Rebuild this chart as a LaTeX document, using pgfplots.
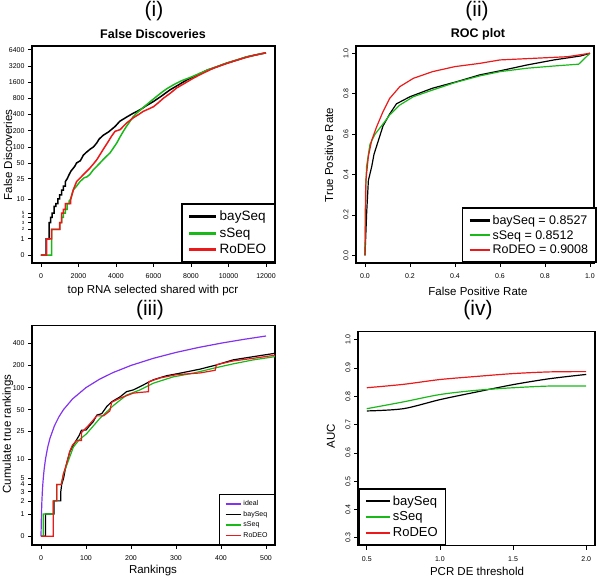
\documentclass[border=0pt]{standalone}
\usepackage{fontspec}
\setmainfont{Liberation Sans}
\usepackage{pgfplots}
\pgfplotsset{compat=1.18}

\definecolor{rgreen}{RGB}{25,185,25}
\definecolor{rred}{RGB}{235,25,25}
\definecolor{rpurple}{RGB}{130,50,240}

\pgfplotsset{
  rpanel/.style={
    scale only axis, anchor=south west,
    axis line style={line width=1.3pt},
    tick align=outside, xtick pos=bottom, ytick pos=left,
    major tick length=4pt,
    tick style={black, line width=0.6pt},
    ticklabel style={font=\fontsize{7}{7.5}\selectfont},
    xticklabel style={yshift=-3pt},
    scaled ticks=false,
    /pgf/number format/assume math mode=true,
    legend cell align=left,
  },
  logtwo/.style={
    y coord trafo/.code={\pgfmathparse{ln(##1+1)/ln(2)}},
    y coord inv trafo/.code={\pgfmathparse{2^(##1)-1}},
  },
}

\begin{document}
\begin{tikzpicture}
\useasboundingbox (0pt,0pt) rectangle (600pt,578pt);

% (i) false discoveries
\begin{axis}[rpanel, logtwo, at={(32pt,315pt)}, width=243pt, height=217pt,
  xmin=-480, xmax=12480, ymin=-0.288, ymax=7484,
  xtick={0,2000,4000,6000,8000,10000,12000},
  xticklabels={0,2000,4000,6000,8000,10000,12000},
  ytick={0,1,2,3,4,5,10,25,50,100,200,400,800,1600,3200,6400},
  yticklabels={0,1,{\fontsize{4.5}{4.5}\selectfont 2},{\fontsize{4.5}{4.5}\selectfont 3},{\fontsize{4.5}{4.5}\selectfont 4},{\fontsize{4.5}{4.5}\selectfont 5},10,25,50,100,200,400,800,1600,3200,6400},
  legend style={at={(rel axis cs:1,0)}, anchor=south east, draw=black,
    line width=1.5pt, font=\fontsize{13.5}{14}\selectfont,
    inner xsep=6pt, inner ysep=5pt, row sep=1.5pt},
  legend image code/.code={\draw[#1, line width=2.6pt] (0pt,0pt) -- (27pt,0pt);},
]
\addplot[black, line width=1.5pt] coordinates {
 (0,0)(280,0)(280,1)(430,1)(430,3)(520,3)(520,4)(600,4)(600,5)(700,5)(700,7)(800,7)(800,8)(900,8)(900,10)(1000,10)(1000,12)(1100,12)(1100,15)(1200,15)(1200,18)(1300,18)(1300,22)(1400,25)(1500,30)(1600,35)(1800,43)(1900,50)(2100,55)(2260,70)(2400,78)(2610,90)(2800,100)(2970,118)(3100,140)(3320,165)(3600,190)(3950,240)(4200,300)(4570,360)(4900,420)(5280,490)(5600,580)(6000,700)(6400,870)(6880,1150)(7300,1400)(7770,1750)(8300,2150)(8840,2650)(9400,3100)(9900,3600)(10500,4150)(10970,4700)(11500,5150)(12000,5600)
};
\addlegendentry{baySeq}
\addplot[rgreen, line width=1.5pt] coordinates {
 (0,0)(570,0)(570,2)(1000,2)(1000,3)(1100,3)(1100,4)(1200,4)(1200,5)(1300,5)(1300,6)(1400,6)(1400,8)(1500,8)(1500,9)(1600,10)(1640,12)(1720,15)(1900,18)(2080,22)(2300,26)(2440,27)(2600,30)(2790,37)(3000,44)(3150,50)(3400,62)(3680,77)(3900,100)(4040,118)(4200,150)(4390,195)(4570,245)(4750,300)(4900,360)(5100,425)(5400,520)(5640,615)(5900,730)(6170,870)(6450,1040)(6700,1200)(7100,1450)(7500,1700)(8000,1980)(8840,2650)(9900,3600)(10970,4700)(12000,5600)
};
\addlegendentry{sSeq}
\addplot[rred, line width=1.5pt] coordinates {
 (0,0)(300,0)(300,1)(570,1)(570,2)(1010,2)(1010,3)(1100,3)(1100,5)(1190,5)(1190,6)(1300,6)(1300,8)(1580,8)(1580,10)(1650,12)(1720,15)(1800,18)(1900,22)(2100,26)(2260,30)(2450,35)(2610,40)(2800,48)(2970,57)(3150,72)(3320,90)(3550,120)(3770,160)(3950,195)(4220,210)(4570,280)(4930,350)(5200,400)(5460,460)(5750,510)(6000,560)(6250,660)(6520,800)(6900,1000)(7240,1250)(7700,1550)(8130,1900)(8650,2350)(9200,2900)(9700,3350)(10260,3900)(10800,4450)(11330,5000)(12000,5600)
};
\addlegendentry{RoDEO}
\end{axis}

% (ii) ROC plot
\begin{axis}[rpanel, at={(356pt,315pt)}, width=238pt, height=217pt,
  xmin=-0.04, xmax=1.018, ymin=-0.038, ymax=1.036,
  xtick={0,0.2,0.4,0.6,0.8,1}, xticklabels={0.0,0.2,0.4,0.6,0.8,1.0},
  ytick={0,0.2,0.4,0.6,0.8,1}, yticklabels={0.0,0.2,0.4,0.6,0.8,1.0},
  yticklabel style={rotate=90, anchor=south},
  legend style={at={(rel axis cs:1.012,0)}, anchor=south east, draw=black,
    line width=1.5pt, font=\fontsize{12.5}{13}\selectfont,
    inner xsep=6pt, inner ysep=5pt, row sep=0.5pt},
  legend image code/.code={\draw[#1, line width=2.1pt] (0pt,0pt) -- (20pt,0pt);},
]
\addplot[black, line width=1.2pt] coordinates {
 (0,0)(0.0074,0.21)(0.015,0.37)(0.03,0.44)(0.04,0.5)(0.06,0.57)(0.08,0.64)(0.11,0.70)(0.14,0.75)(0.2,0.785)(0.3,0.827)(0.41,0.86)(0.51,0.893)(0.6,0.913)(0.72,0.942)(0.84,0.967)(0.96,0.987)(1,1)
};
\addlegendentry{baySeq = 0.8527}
\addplot[rgreen, line width=1.2pt] coordinates {
 (0,0)(0.002,0.3)(0.007,0.44)(0.022,0.55)(0.045,0.60)(0.08,0.65)(0.11,0.695)(0.155,0.744)(0.215,0.785)(0.3,0.818)(0.4,0.855)(0.51,0.888)(0.6,0.909)(0.72,0.926)(0.84,0.937)(0.95,0.946)(1,1)
};
\addlegendentry{sSeq = 0.8512}
\addplot[rred, line width=1.2pt] coordinates {
 (0,0)(0.004,0.37)(0.015,0.49)(0.03,0.57)(0.052,0.637)(0.08,0.711)(0.11,0.777)(0.155,0.835)(0.215,0.876)(0.3,0.909)(0.4,0.934)(0.51,0.95)(0.6,0.967)(0.75,0.975)(0.9,0.983)(1,1)
};
\addlegendentry{RoDEO = 0.9008}
\end{axis}

% (iii) cumulate true rankings
\begin{axis}[rpanel, logtwo, at={(32pt,33pt)}, width=243pt, height=219.3pt,
  xmin=-20, xmax=520, ymin=-0.237, ymax=689,
  xtick={0,100,200,300,400,500}, xticklabels={0,100,200,300,400,500},
  ytick={0,1,2,3,4,5,10,25,50,100,200,400},
  yticklabels={0,1,2,3,4,5,10,25,50,100,200,400},
  legend style={at={(rel axis cs:1,0)}, anchor=south east, draw=black,
    line width=0.8pt, font=\fontsize{7}{7.5}\selectfont,
    inner xsep=5pt, inner ysep=4pt, row sep=0pt},
  legend image code/.code={\draw[#1, line width=1.6pt] (0pt,0pt) -- (15pt,0pt);},
]
\addplot[rpurple, line width=1.2pt] coordinates {
 (0,0)(1,1)(2,2)(3,3)(4,4)(5,5)(7,7)(10,10)(15,15)(20,20)(30,30)(40,40)(50,50)(70,70)(100,100)(130,130)(160,160)(200,200)(250,250)(300,300)(350,350)(400,400)(450,450)(500,500)
};
\addlegendentry{ideal}
\addplot[black, line width=1.2pt] coordinates {
 (0,0)(10,0)(10,1)(29,1)(29,2)(44,2)(44,3)(46,4)(50,5)(54,7)(57,8.6)(64,12.8)(72,16)(79,19)(85,22)(90,26)(100,26)(108,30)(116,34)(124,42)(135,44)(146,55)(157,64)(176,75)(190,88)(205,93)(220,103)(235,115)(250,128)(279,145)(309,157)(353,178)(390,203)(427,238)(472,263)(520,292)
};
\addlegendentry{baySeq}
\addplot[rgreen, line width=1.2pt] coordinates {
 (0,0)(5,0)(5,1)(27,1)(27,2)(35,2)(35,4)(45,4)(50,6)(57,8)(72,15)(85,19)(101,23)(131,38)(161,57)(190,79)(220,93)(250,115)(294,140)(338,157)(383,183)(427,210)(472,238)(520,263)
};
\addlegendentry{sSeq}
\addplot[rred, line width=1.2pt] coordinates {
 (0,0)(27,0)(27,2)(35,2)(35,4)(45,4)(50,6)(57,8.6)(64,13)(70,16)(79,18.5)(90,18.5)(90,24)(103,29)(124,41)(139,41)(153,48)(157,63)(176,72)(205,84)(220,86)(239,88)(239,120)(264,135)(301,150)(353,158)(387,172)(390,205)(427,230)(472,250)(520,275)
};
\addlegendentry{RoDEO}
\end{axis}

% (iv) AUC vs threshold
\begin{axis}[rpanel, at={(358pt,32.3pt)}, width=237pt, height=214pt,
  xmin=0.44, xmax=2.06, ymin=0.272, ymax=1.028,
  xtick={0.5,1,1.5,2}, xticklabels={0.5,1.0,1.5,2.0},
  ytick={0.3,0.4,0.5,0.6,0.7,0.8,0.9,1}, yticklabels={0.3,0.4,0.5,0.6,0.7,0.8,0.9,1.0},
  yticklabel style={rotate=90, anchor=south},
  legend style={at={(rel axis cs:0,0)}, anchor=south west, draw=black,
    line width=1.5pt, font=\fontsize{13}{14}\selectfont,
    inner xsep=6pt, inner ysep=5pt, row sep=1pt},
  legend image code/.code={\draw[#1, line width=2.2pt] (0pt,0pt) -- (24pt,0pt);},
]
\addplot[black, line width=1.2pt, smooth] coordinates {
 (0.5,0.748)(0.75,0.756)(1.0,0.788)(1.25,0.815)(1.5,0.841)(1.75,0.862)(2.0,0.877)
};
\addlegendentry{baySeq}
\addplot[rgreen, line width=1.2pt, smooth] coordinates {
 (0.5,0.756)(0.75,0.780)(1.0,0.806)(1.25,0.821)(1.5,0.830)(1.75,0.836)(2.0,0.836)
};
\addlegendentry{sSeq}
\addplot[rred, line width=1.2pt, smooth] coordinates {
 (0.5,0.830)(0.75,0.842)(1.0,0.859)(1.25,0.870)(1.5,0.880)(1.75,0.886)(2.0,0.887)
};
\addlegendentry{RoDEO}
\end{axis}

% panel tags, titles and axis labels
\node[font=\fontsize{21}{21}\selectfont] at (154pt,567pt) {(i)};
\node[font=\fontsize{21}{21}\selectfont] at (477pt,567pt) {(ii)};
\node[font=\fontsize{21}{21}\selectfont] at (150pt,268pt) {(iii)};
\node[font=\fontsize{21}{21}\selectfont] at (478pt,268pt) {(iv)};
\node[font=\bfseries\fontsize{12.5}{13}\selectfont] at (153pt,544pt) {False Discoveries};
\node[font=\bfseries\fontsize{12.5}{13}\selectfont] at (478pt,544pt) {ROC plot};
\node[font=\fontsize{11.5}{12}\selectfont] at (153pt,287pt) {top RNA selected shared with pcr};
\node[font=\fontsize{11.5}{12}\selectfont] at (478pt,287pt) {False Positive Rate};
\node[font=\fontsize{11.5}{12}\selectfont] at (153pt,7pt) {Rankings};
\node[font=\fontsize{11.5}{12}\selectfont] at (477pt,7pt) {PCR DE threshold};
\node[font=\fontsize{11.5}{12}\selectfont, rotate=90] at (8pt,423pt) {False Discoveries};
\node[font=\fontsize{11.5}{12}\selectfont, rotate=90] at (329pt,423pt) {True Positive Rate};
\node[font=\fontsize{11.5}{12}\selectfont, rotate=90] at (8pt,144pt) {Cumulate true rankings};
\node[font=\fontsize{11.5}{12}\selectfont, rotate=90] at (331pt,142pt) {AUC};
\end{tikzpicture}
\end{document}
